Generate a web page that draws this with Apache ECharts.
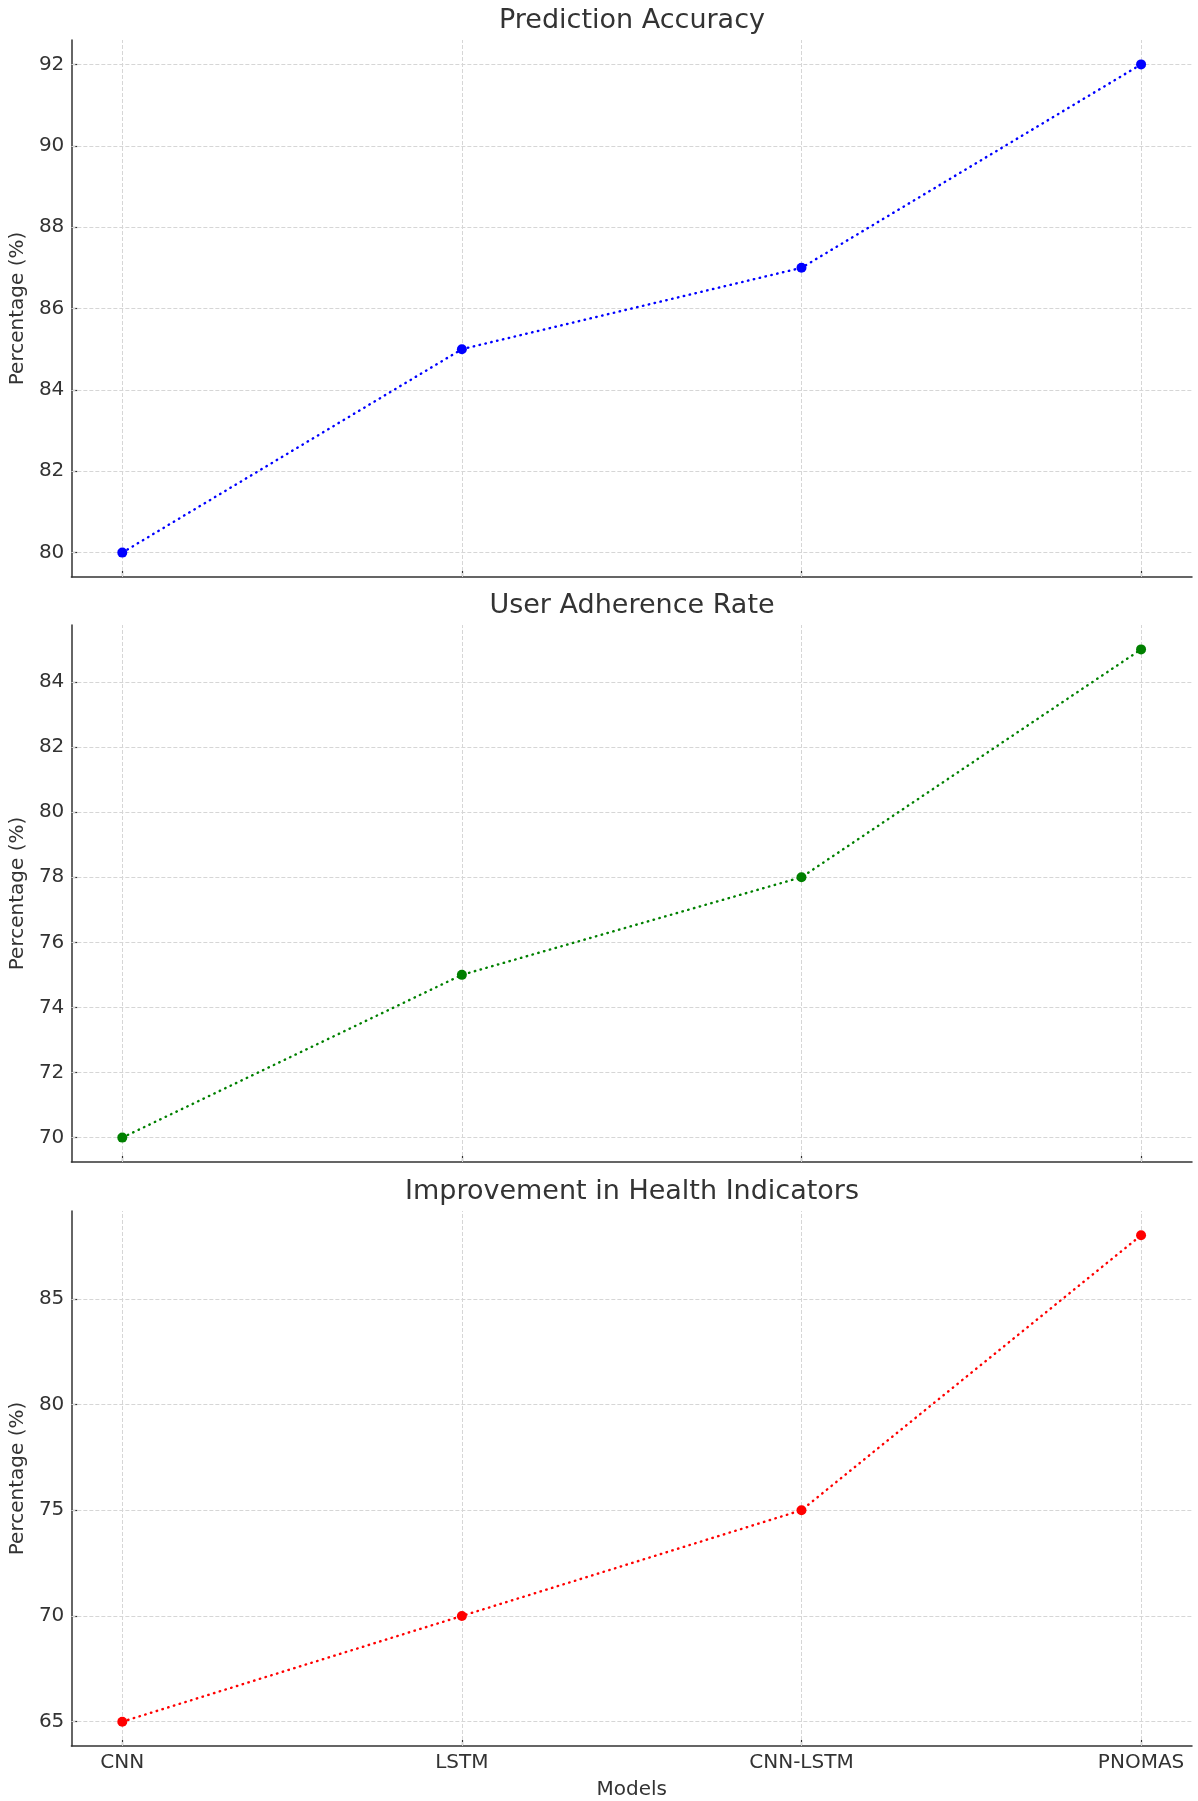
<!DOCTYPE html>
<html>
<head>
<meta charset="utf-8">
<script src="https://cdn.jsdelivr.net/npm/echarts@6/dist/echarts.min.js"></script>
<style>
  html, body { margin: 0; padding: 0; background: #fff; }
  #chart { width: 1198px; height: 1801px; }
</style>
</head>
<body>
<div id="chart"></div>
<script>
const models = ['CNN', 'LSTM', 'CNN-LSTM', 'PNOMAS']
const predictionAccuracy = [80, 85, 87, 92]
const userAdherence = [70, 75, 78, 85]
const healthImprovement = [65, 70, 75, 88]

const accuracyTicks = [80, 82, 84, 86, 88, 90, 92]
const adherenceTicks = [70, 72, 74, 76, 78, 80, 82, 84]
const healthTicks = [65, 70, 75, 80, 85]

const panelTitles = ['Prediction Accuracy', 'User Adherence Rate', 'Improvement in Health Indicators']

const font = 'DejaVu Sans'
const textColor = '#333'
const gridTops = [40, 625, 1211]
const gridHeights = [537, 537, 548]
const modelIdx = models.map((m, i) => i)

// matplotlib style 5% margin on each side
function padded(vals) {
  const lo = Math.min(...vals), hi = Math.max(...vals)
  const pad = (hi - lo) * 0.05
  return { min: lo - pad, max: hi + pad }
}

const gridLineStyle = { color: '#d6d6d6', width: 1, type: [4, 2] }

const panels = [
  { data: predictionAccuracy, ticks: accuracyTicks, color: '#0000ff' },
  { data: userAdherence, ticks: adherenceTicks, color: '#008000' },
  { data: healthImprovement, ticks: healthTicks, color: '#ff0000' }
]

const chart = echarts.init(document.getElementById('chart'), null, { renderer: 'canvas' })

chart.setOption({
  animation: false,
  textStyle: { fontFamily: font },
  title: panelTitles.map((t, i) => ({
    text: t,
    left: 627,
    textAlign: 'center',
    top: gridTops[i] - 38,
    textStyle: { fontFamily: font, fontSize: 27, fontWeight: 'normal', color: textColor }
  })),
  grid: gridTops.map((top, i) => ({ left: 70, right: 6, top: top, height: gridHeights[i] })),
  xAxis: panels.map((p, i) => ({
    type: 'value',
    gridIndex: i,
    min: -0.15,
    max: 3.15,
    name: i === 2 ? 'Models' : '',
    nameLocation: 'middle',
    nameGap: 34,
    nameTextStyle: { fontFamily: font, fontSize: 20, color: textColor },
    axisLine: { show: true, onZero: false, lineStyle: { color: '#333', width: 1.5 } },
    axisTick: { show: true, inside: true, length: 6, customValues: modelIdx, lineStyle: { color: '#333', width: 1.2 } },
    axisLabel: {
      show: i === 2,
      customValues: modelIdx,
      margin: 7,
      fontFamily: font,
      fontSize: 20,
      color: textColor,
      formatter: v => models[Math.round(v)]
    },
    splitLine: { show: false }
  })),
  yAxis: panels.map((p, i) => ({
    type: 'value',
    gridIndex: i,
    ...padded(p.data),
    name: 'Percentage (%)',
    nameLocation: 'middle',
    nameRotate: 90,
    nameGap: 36,
    nameTextStyle: { fontFamily: font, fontSize: 20, color: textColor },
    axisLine: { show: true, onZero: false, lineStyle: { color: '#333', width: 1.5 } },
    axisTick: { show: true, inside: true, length: 6, customValues: p.ticks, lineStyle: { color: '#333', width: 1.2 } },
    axisLabel: { customValues: p.ticks, margin: 7, fontFamily: font, fontSize: 20, color: textColor },
    splitLine: { show: false }
  })),
  series: panels.map((p, i) => ({
    type: 'line',
    xAxisIndex: i,
    yAxisIndex: i,
    data: p.data.map((v, k) => [k, v]),
    symbol: 'circle',
    symbolSize: 10,
    itemStyle: { color: p.color },
    lineStyle: { color: p.color, width: 2.4, type: [0.5, 5.5], cap: 'round' },
    z: 3,
    markLine: {
      silent: true,
      symbol: 'none',
      label: { show: false },
      lineStyle: gridLineStyle,
      z: 1,
      data: modelIdx.map(k => ({ xAxis: k })).concat(p.ticks.map(t => ({ yAxis: t })))
    }
  }))
})
</script>
</body>
</html>
